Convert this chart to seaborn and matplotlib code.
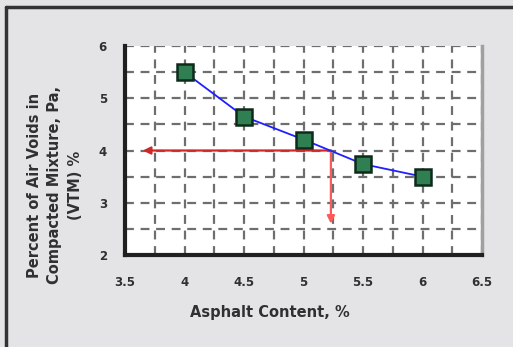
"""
Air voids vs asphalt content - recreated with seaborn / matplotlib
"""

import pandas as pd
import seaborn as sns
import matplotlib.pyplot as plt
from matplotlib.lines import Line2D
from matplotlib.ticker import MultipleLocator

# Data

asphalt_content = [4.0, 4.5, 5.0, 5.5, 6.0]
air_voids = [5.5, 4.65, 4.21, 3.74, 3.5]

target_voids = 4.0
optimum_ac = 5.23
arrow_left_x = 3.65
arrow_bottom_y = 2.6

x_ticks = [3.5, 4.0, 4.5, 5.0, 5.5, 6.0, 6.5]
x_tick_labels = ['3.5', '4', '4.5', '5', '5.5', '6', '6.5']
y_ticks = [2, 3, 4, 5, 6]

df = pd.DataFrame({'AC': asphalt_content, 'Pa': air_voids})

sns.set_style('white')
plt.rcParams['font.family'] = ['DejaVu Sans']

fig = plt.figure(figsize=(5.13, 3.47), dpi=100, facecolor='#e4e4e7')
ax = fig.add_axes([0.2437, 0.2651, 0.6959, 0.6023])
ax.set_facecolor('white')

sns.lineplot(data=df, x='AC', y='Pa', ax=ax, color='#2020ff', linewidth=1.3,
             marker='s', markersize=12, markerfacecolor='#2f7f52',
             markeredgecolor='#0e2a1a', markeredgewidth=1.8, zorder=4)

# red construction lines for 4 % voids
ax.annotate('', xy=(arrow_left_x, target_voids), xytext=(optimum_ac, target_voids),
            arrowprops=dict(arrowstyle='-|>', color='#d02828', lw=1.6,
                            mutation_scale=11, shrinkA=0, shrinkB=0), zorder=3)
ax.annotate('', xy=(optimum_ac, arrow_bottom_y), xytext=(optimum_ac, target_voids),
            arrowprops=dict(arrowstyle='-|>', color='#ff5a5a', lw=1.6,
                            mutation_scale=11, shrinkA=0, shrinkB=0), zorder=3)

ax.set_xlim(3.5, 6.5)
ax.set_ylim(2, 6)
ax.set_xticks(x_ticks)
ax.set_xticklabels(x_tick_labels)
ax.set_yticks(y_ticks)
ax.xaxis.set_minor_locator(MultipleLocator(0.25))
ax.yaxis.set_minor_locator(MultipleLocator(0.5))
ax.grid(which='both', color='#6e6e6e', linestyle=(0, (4, 3)), linewidth=1.6)
ax.set_axisbelow(True)

ax.tick_params(axis='x', which='major', labelsize=8.5, length=3, width=2, color='#202020', pad=12)
ax.tick_params(axis='y', which='major', labelsize=8.5, length=3, width=2, color='#202020', pad=10)
ax.tick_params(axis='both', which='minor', length=0)
for lab in ax.get_xticklabels() + ax.get_yticklabels():
    lab.set_fontweight('bold')
    lab.set_color('#303030')

for side in ['left', 'bottom']:
    ax.spines[side].set_color('#202020')
    ax.spines[side].set_linewidth(3)
ax.spines['top'].set_visible(False)
ax.spines['right'].set_color('#a0a0a0')
ax.spines['right'].set_linewidth(2.5)

ax.set_xlabel('')
ax.set_ylabel('')
fig.text(270 / 513, 1 - 312 / 347, 'Asphalt Content, %', fontsize=10.5, fontweight='bold',
         color='#303030', ha='center', va='center')
fig.text(55 / 513, 1 - 185 / 347, 'Percent of Air Voids in\nCompacted Mixture, Pa,\n(VTM) %',
         fontsize=10.5, fontweight='bold', color='#303030', rotation=90,
         ha='center', va='center', multialignment='center', linespacing=1.45)

# outer frame of the chart (top and left edges visible)
fig.lines.append(Line2D([6 / 513, 1.0], [1 - 7 / 347, 1 - 7 / 347], transform=fig.transFigure,
                        color='#333333', linewidth=2.5))
fig.lines.append(Line2D([6 / 513, 6 / 513], [0.0, 1 - 7 / 347], transform=fig.transFigure,
                        color='#333333', linewidth=2.5))

plt.savefig('out.png', dpi=100, facecolor=fig.get_facecolor())
